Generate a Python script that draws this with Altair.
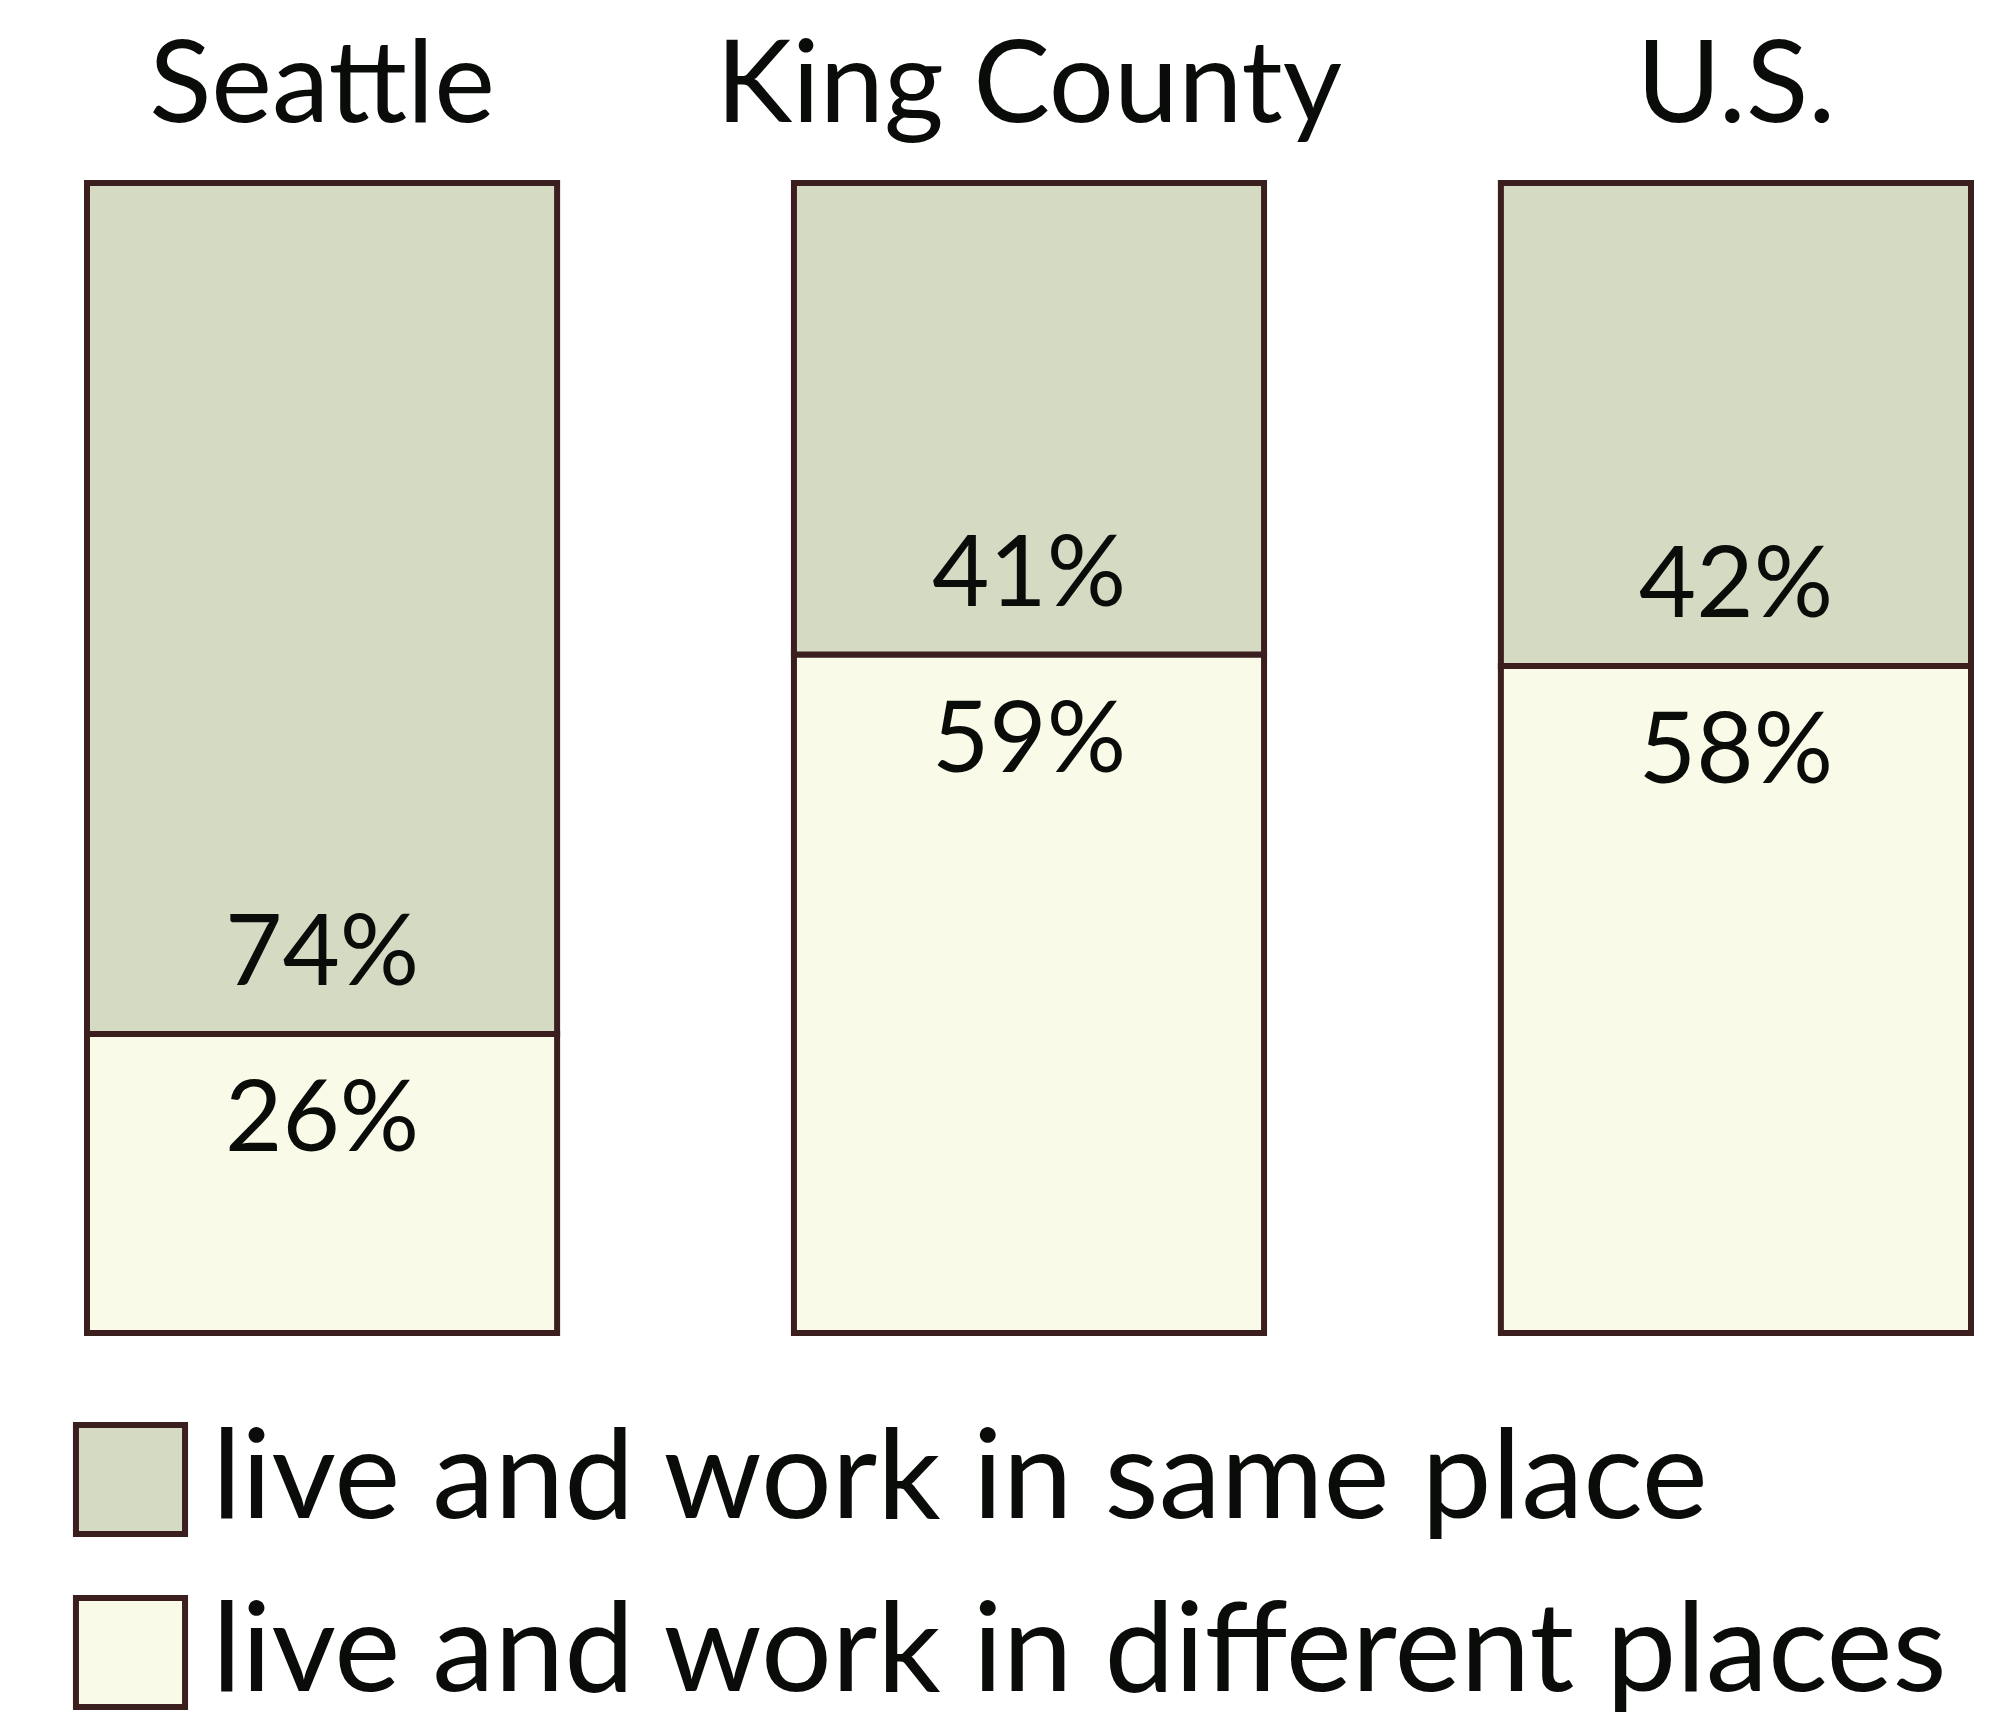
import altair as alt
import pandas as pd

regions = ["Seattle", "King County", "U.S."]
same_place = [74, 41, 42]
different_places = [26, 59, 58]
categories = ["live and work in same place", "live and work in different places"]
colors = ["#d5dbc3", "#fafae8"]
stroke_color = "#3b1e1e"
text_color = "#0a0c0a"
FONT = "Lato"

rows = []
for r, s, d in zip(regions, same_place, different_places):
    rows.append({"region": r, "category": categories[1], "start": 0, "end": d, "label": f"{d}%"})
    rows.append({"region": r, "category": categories[0], "start": d, "end": d + s, "label": f"{s}%"})
df = pd.DataFrame(rows)

x_enc = alt.X(
    "region:N",
    sort=regions,
    scale=alt.Scale(range=[79, 1963], paddingInner=0.335, paddingOuter=0),
    axis=alt.Axis(
        orient="top", title=None, ticks=False, domain=False, labelAngle=0,
        labelFont=FONT, labelFontSize=115, labelColor=text_color,
        labelPadding=62, labelBaseline="alphabetic", labelLimit=2000,
    ),
)
y_scale = alt.Scale(domain=[0, 100], nice=False)

base = alt.Chart(df)

bars = base.mark_bar(stroke=stroke_color, strokeWidth=6, opacity=1).encode(
    x=x_enc,
    y=alt.Y("start:Q", scale=y_scale, axis=None),
    y2="end:Q",
    color=alt.Color(
        "category:N",
        scale=alt.Scale(domain=categories, range=colors),
        legend=alt.Legend(
            orient="none", legendX=60, legendY=1234, title=None,
            symbolType="square", symbolSize=11900, symbolStrokeColor=stroke_color,
            symbolStrokeWidth=6, symbolOpacity=1,
            labelFont=FONT, labelFontSize=125, labelColor=text_color,
            labelOffset=19, rowPadding=38, labelLimit=3000,
        ),
    ),
)

top_labels = base.transform_filter(alt.datum.category == categories[0]).mark_text(
    font=FONT, fontSize=99, baseline="alphabetic", dy=-49, color=text_color
).encode(
    x=alt.X("region:N", sort=regions),
    y=alt.Y("start:Q", scale=y_scale),
    text="label:N",
)

bottom_labels = base.transform_filter(alt.datum.category == categories[1]).mark_text(
    font=FONT, fontSize=99, baseline="alphabetic", dy=117, color=text_color
).encode(
    x=alt.X("region:N", sort=regions),
    y=alt.Y("end:Q", scale=y_scale),
    text="label:N",
)

chart = alt.layer(bars, top_labels, bottom_labels).properties(
    width=1975, height=1150,
    autosize=alt.AutoSizeParams(type="none"),
    padding={"top": 175, "left": 0, "right": 0, "bottom": 383},
).configure_view(stroke=None)

chart.save("out.html", embed_options={"renderer": "svg", "actions": False})
